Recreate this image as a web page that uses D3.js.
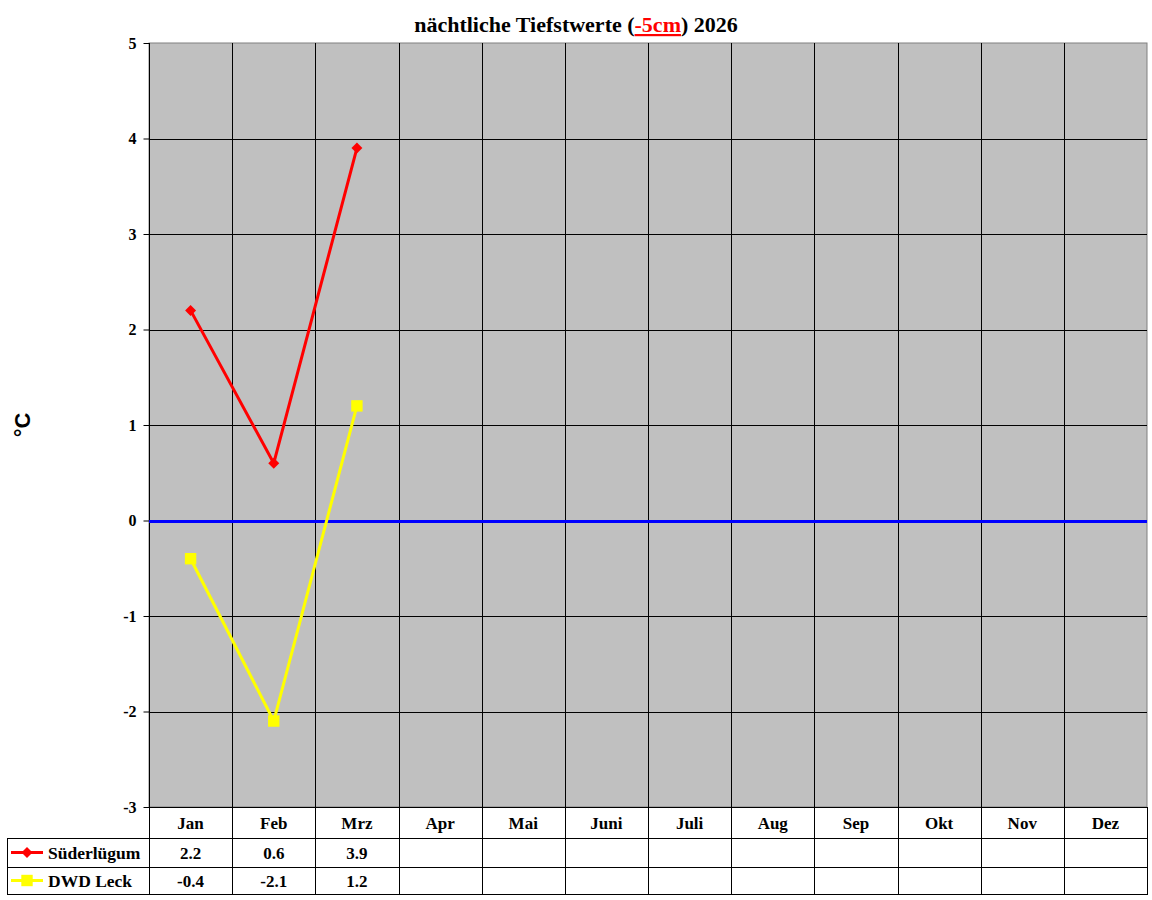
<!DOCTYPE html>
<html lang="de">
<head>
<meta charset="UTF-8">
<title>nächtliche Tiefstwerte (-5cm) 2026</title>
<script src="https://d3js.org/d3.v7.min.js"></script>
<style>
    body { margin: 0; background: #fff; }
    svg text { font-family: "Liberation Serif", "Times New Roman", serif; font-weight: bold; }
</style>
</head>
<body>
<div id="chart"></div>
<script>
const months = ["Jan", "Feb", "Mrz", "Apr", "Mai", "Juni", "Juli", "Aug", "Sep", "Okt", "Nov", "Dez"];
const suederluegum = [2.2, 0.6, 3.9];
const dwdLeck = [-0.4, -2.1, 1.2];
const yTicks = [-3, -2, -1, 0, 1, 2, 3, 4, 5];

const width = 1152, height = 900;
const plotLeft = 149, plotRight = 1147, plotTop = 43, plotBottom = 807;
const rowY = [807, 838, 867, 894];

// plain hyphen instead of the unicode minus, as in the original
const fmtInt = d => String(d);
const fmt1 = d => d.toFixed(1);

const svg = d3.select("#chart").append("svg")
    .attr("width", width).attr("height", height);

const x = d3.scaleBand().domain(months).range([plotLeft, plotRight]);
const y = d3.scaleLinear().domain([-3, 5]).range([plotBottom, plotTop]);

// plot background
svg.append("rect")
    .attr("x", plotLeft).attr("y", plotTop)
    .attr("width", plotRight - plotLeft).attr("height", plotBottom - plotTop)
    .attr("fill", "#c0c0c0")
    .attr("stroke", "#808080").attr("stroke-width", 1);

// horizontal grid
svg.append("g").selectAll("line")
    .data(yTicks.filter(d => d !== 0 && d !== 5 && d !== -3))
    .join("line")
    .attr("x1", plotLeft).attr("x2", plotRight)
    .attr("y1", d => Math.round(y(d)) + 0.5).attr("y2", d => Math.round(y(d)) + 0.5)
    .attr("stroke", "#000").attr("stroke-width", 1);

// vertical grid (column borders), continued through the table
svg.append("g").selectAll("line")
    .data(months.slice(1))
    .join("line")
    .attr("x1", d => Math.round(x(d)) + 0.5).attr("x2", d => Math.round(x(d)) + 0.5)
    .attr("y1", plotTop).attr("y2", rowY[3])
    .attr("stroke", "#000").attr("stroke-width", 1);

// y axis
const yAxis = svg.append("g")
    .attr("transform", `translate(${plotLeft + 0.5},0)`)
    .call(d3.axisLeft(y).tickValues(yTicks).tickSize(6).tickPadding(7).tickFormat(fmtInt));
yAxis.select(".domain").attr("stroke", "#000").attr("d", `M0,${plotTop}V${rowY[3]}`);
yAxis.selectAll(".tick line").attr("stroke", "#000");
yAxis.selectAll(".tick text")
    .attr("font-size", 16).attr("fill", "#000")
    .style("font-family", "'Liberation Serif', serif").style("font-weight", "bold");

// zero line
svg.append("line")
    .attr("x1", plotLeft).attr("x2", plotRight)
    .attr("y1", Math.round(y(0)) + 0.5).attr("y2", Math.round(y(0)) + 0.5)
    .attr("stroke", "#0000ff").attr("stroke-width", 3)
    .attr("shape-rendering", "crispEdges");

// table lines
const table = svg.append("g").attr("shape-rendering", "crispEdges");
table.append("line").attr("x1", plotLeft).attr("x2", plotRight).attr("y1", rowY[0] + 0.5).attr("y2", rowY[0] + 0.5).attr("stroke", "#000");
[rowY[1], rowY[2], rowY[3]].forEach(yy => {
    table.append("line").attr("x1", 7).attr("x2", plotRight).attr("y1", yy + 0.5).attr("y2", yy + 0.5).attr("stroke", "#000");
});
table.append("line").attr("x1", 7.5).attr("x2", 7.5).attr("y1", rowY[1]).attr("y2", rowY[3]).attr("stroke", "#000");
table.append("line").attr("x1", plotRight + 0.5).attr("x2", plotRight + 0.5).attr("y1", rowY[0]).attr("y2", rowY[3] + 1).attr("stroke", "#000");

// month labels
table.selectAll("text.month")
    .data(months).join("text")
    .attr("class", "month")
    .attr("x", d => x(d) + x.bandwidth() / 2)
    .attr("y", (rowY[0] + rowY[1]) / 2 + 6)
    .attr("text-anchor", "middle").attr("font-size", 17)
    .text(d => d);

const series = [
    { name: "Süderlügum", values: suederluegum, color: "#ff0000", shape: d3.symbolSquare, size: 60, rot: 45 },
    { name: "DWD Leck", values: dwdLeck, color: "#ffff00", shape: d3.symbolSquare, size: 130, rot: 0 }
];

series.forEach((s, i) => {
    const rowMid = (rowY[i + 1] + rowY[i + 2]) / 2;
    // legend key
    table.append("line")
        .attr("x1", 11).attr("x2", 43).attr("y1", rowMid).attr("y2", rowMid)
        .attr("stroke", s.color).attr("stroke-width", 3);
    table.append("path")
        .attr("d", d3.symbol().type(s.shape).size(s.size))
        .attr("transform", `translate(27,${rowMid}) rotate(${s.rot})`)
        .attr("fill", s.color)
        .attr("shape-rendering", "auto");
    table.append("text")
        .attr("x", 48).attr("y", rowMid + 6)
        .attr("font-size", 17.5).text(s.name);
    // values
    table.selectAll("text.v" + i)
        .data(s.values).join("text")
        .attr("x", (d, j) => x(months[j]) + x.bandwidth() / 2)
        .attr("y", rowMid + 6)
        .attr("text-anchor", "middle").attr("font-size", 17)
        .text(fmt1);

    // line and markers
    const pts = s.values.map((v, j) => [x(months[j]) + x.bandwidth() / 2, y(v)]);
    svg.append("path")
        .attr("d", d3.line()(pts))
        .attr("fill", "none").attr("stroke", s.color).attr("stroke-width", 3);
    svg.append("g").selectAll("path")
        .data(pts).join("path")
        .attr("d", d3.symbol().type(s.shape).size(s.size))
        .attr("transform", d => `translate(${d[0]},${d[1]}) rotate(${s.rot})`)
        .attr("fill", s.color);
});

// title
const title = svg.append("text")
    .attr("x", 576).attr("y", 32)
    .attr("text-anchor", "middle").attr("font-size", 22);
title.append("tspan").text("nächtliche Tiefstwerte (");
title.append("tspan").attr("fill", "#ff0000").attr("text-decoration", "underline").text("-5cm");
title.append("tspan").text(") 2026");

// y label
svg.append("text")
    .attr("transform", "translate(30,425) rotate(-90)")
    .attr("text-anchor", "middle").attr("font-size", 22)
    .style("font-family", "'Liberation Sans', Arial, sans-serif")
    .text("°C");
</script>
</body>
</html>
